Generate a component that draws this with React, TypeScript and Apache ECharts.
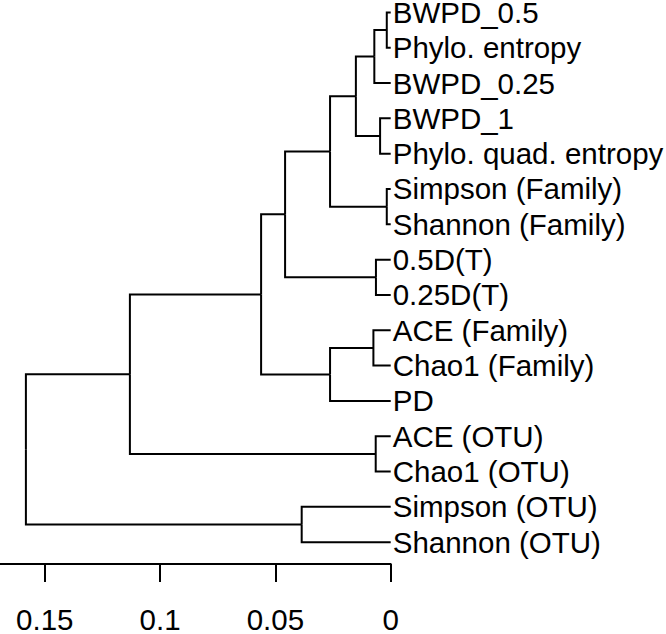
import React, { useEffect, useRef } from "react";
import * as echarts from "echarts";

// Leaf labels, top to bottom
const leafLabels = [
  "BWPD_0.5",
  "Phylo. entropy",
  "BWPD_0.25",
  "BWPD_1",
  "Phylo. quad. entropy",
  "Simpson (Family)",
  "Shannon (Family)",
  "0.5D(T)",
  "0.25D(T)",
  "ACE (Family)",
  "Chao1 (Family)",
  "PD",
  "ACE (OTU)",
  "Chao1 (OTU)",
  "Simpson (OTU)",
  "Shannon (OTU)",
];

// hclust-style merge: negative = leaf (1-based), positive = earlier merge step (1-based)
const mergeLeft = [-1, -6, -4, -8, -13, 1, -10, 6, 7, 8, -15, 10, 12, 13, 14];
const mergeRight = [-2, -7, -5, -9, -14, -3, -11, 3, -12, 2, -16, 4, 9, 5, 11];
const mergeHeight = [
  0.0017, 0.0017, 0.0046, 0.0064, 0.0065, 0.0071, 0.0075, 0.0151, 0.0263,
  0.0263, 0.0386, 0.0458, 0.0562, 0.1131, 0.1582,
];

// Axis ticks
const xTickValues = [0, 0.05, 0.1, 0.15];
const xTickLabels = ["0", "0.05", "0.1", "0.15"];

function buildLinks() {
  const nodeY: number[] = [];
  const childPos = (c: number) =>
    c < 0 ? { h: 0, y: -c - 1 } : { h: mergeHeight[c - 1], y: nodeY[c - 1] };
  const links: number[][] = [];
  for (let i = 0; i < mergeHeight.length; i++) {
    const a = childPos(mergeLeft[i]);
    const b = childPos(mergeRight[i]);
    const y = (a.y + b.y) / 2;
    nodeY.push(y);
    const h = mergeHeight[i];
    links.push([h, y, a.h, a.y]);
    links.push([h, y, b.h, b.y]);
  }
  return links;
}

const FONT = '"Liberation Sans", Arial, Helvetica, sans-serif';
const FONT_SIZE = 29.5;

export default function App() {
  const ref = useRef<HTMLDivElement>(null);
  useEffect(() => {
    if (!ref.current) return;
    const chart = echarts.init(ref.current, undefined, { renderer: "svg" });
    const links = buildLinks();
    const labelData = leafLabels.map((name, i) => [0, i, name]);
    chart.setOption({
      animation: false,
      backgroundColor: "#ffffff",
      grid: { left: 0, top: 0, width: 390.7, height: 568, containLabel: false },
      xAxis: {
        type: "value",
        position: "bottom",
        min: 0,
        max: 0.16943,
        inverse: true,
        splitLine: { show: false },
        axisLine: { show: true, onZero: false, lineStyle: { color: "#000", width: 2 } },
        axisTick: {
          show: true,
          length: 18,
          inside: false,
          customValues: xTickValues,
          lineStyle: { color: "#000", width: 2 },
        },
        axisLabel: {
          show: true,
          customValues: xTickValues,
          margin: 43,
          color: "#000",
          fontSize: FONT_SIZE,
          lineHeight: 24,
          fontFamily: FONT,
          formatter: (v: number) => {
            const idx = xTickValues.findIndex((t) => Math.abs(t - v) < 1e-9);
            return idx >= 0 ? xTickLabels[idx] : "";
          },
        },
      },
      yAxis: {
        type: "value",
        show: false,
        min: -0.351,
        max: 15.618,
        inverse: true,
        splitLine: { show: false },
      },
      series: [
        {
          type: "custom",
          clip: false,
          silent: true,
          encode: { x: [0, 2], y: [1, 3] },
          data: links,
          renderItem: (params: any, api: any) => {
            const p0 = api.coord([api.value(0), api.value(1)]);
            const p1 = api.coord([api.value(0), api.value(3)]);
            const p2 = api.coord([api.value(2), api.value(3)]);
            return {
              type: "polyline",
              shape: { points: [p0, p1, p2] },
              style: { stroke: "#000", lineWidth: 2, fill: null },
            };
          },
        },
        {
          type: "custom",
          clip: false,
          silent: true,
          encode: { x: 0, y: 1 },
          data: labelData,
          renderItem: (params: any, api: any) => {
            const p = api.coord([api.value(0), api.value(1)]);
            return {
              type: "text",
              x: p[0] + 2,
              y: p[1],
              style: {
                text: leafLabels[params.dataIndex],
                fill: "#000",
                fontSize: FONT_SIZE,
                lineHeight: 24,
                fontFamily: FONT,
                align: "left",
                verticalAlign: "middle",
              },
            };
          },
        },
      ],
    });
    return () => chart.dispose();
  }, []);
  return (
    <div
      ref={ref}
      style={{ position: "fixed", left: 0, top: 0, width: 666, height: 634, background: "#fff" }}
    />
  );
}
